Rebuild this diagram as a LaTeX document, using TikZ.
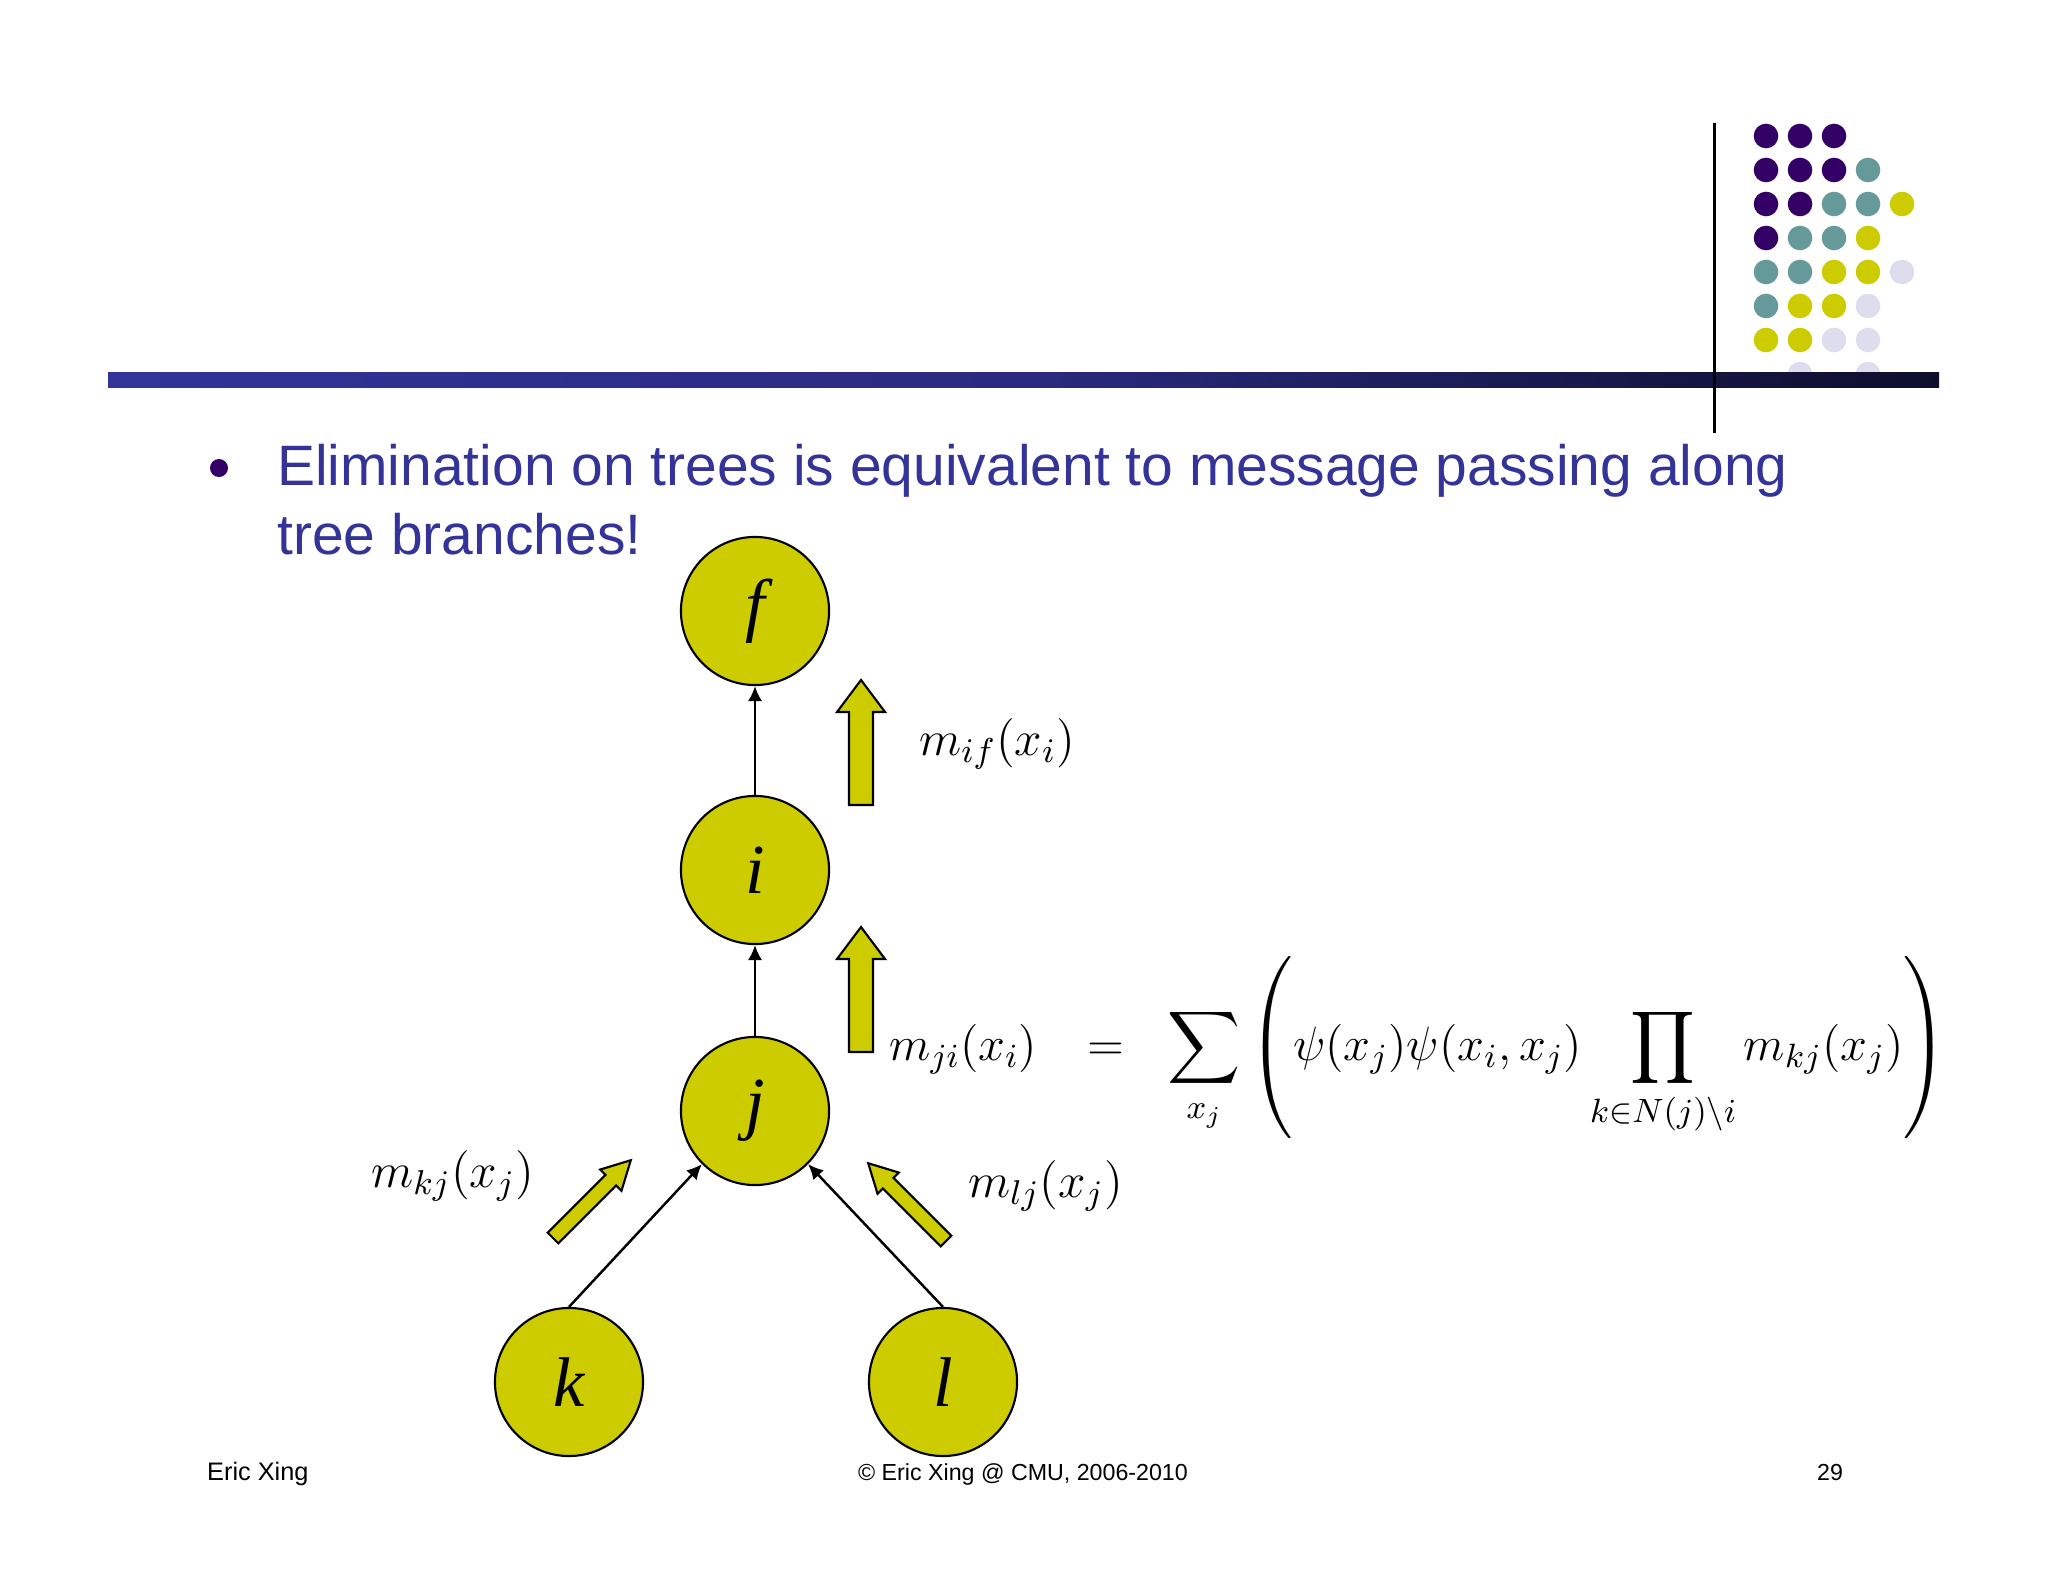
\documentclass[tikz,border=0pt]{standalone}
\usepackage{fix-cm}
\usepackage{amsmath}
\usepackage{fontspec}
\usepackage{tikz}
\usetikzlibrary{arrows.meta, positioning, calc}

\newfontfamily\slidefont{Liberation Sans}
\newfontfamily\letterfont{Liberation Serif}

\definecolor{nodeyellow}{HTML}{CCCC00}
\definecolor{dotpp}{HTML}{330066}
\definecolor{dottl}{HTML}{669999}
\definecolor{dotyl}{HTML}{CCCC00}
\definecolor{dotlv}{HTML}{DDDDEE}
\definecolor{titleblue}{HTML}{333399}
\definecolor{barblue}{HTML}{333399}
\definecolor{barmid}{HTML}{2A2A80}
\definecolor{bardark}{HTML}{0E0E2C}

\tikzset{
  dotno/.style={fill=none},
  var/.style={circle, draw, fill=nodeyellow, minimum size=1.48cm, inner sep=0pt,
    line width=0.6pt, font=\letterfont\itshape\fontsize{20}{20}\selectfont},
  msglabel/.style={anchor=base west, inner sep=0pt, font=\fontsize{14}{17}\selectfont},
  footer/.style={anchor=base, inner sep=0pt, font=\slidefont\fontsize{6.6}{8}\selectfont},
  blockarrow/.style={draw, fill=nodeyellow, line width=0.6pt, line join=miter},
  msgarrow/.pic={
    \draw[blockarrow] (-12,0) -- (-12,-93) -- (-24,-93) -- (0,-125)
      -- (24,-93) -- (12,-93) -- (12,0) -- cycle;
  }
}

\begin{document}
\begin{tikzpicture}[x=0.01cm, y=-0.01cm, >={Latex[length=4.3pt, width=4.1pt]}, line width=0.7pt]
    \useasboundingbox[fill=white] (0,0) rectangle (2048,1582);

    % corner dots
    \foreach \cols [count=\r] in {{pp,pp,pp},{pp,pp,pp,tl},{pp,pp,tl,tl,yl},{pp,tl,tl,yl},
        {tl,tl,yl,yl,lv},{tl,yl,yl,lv},{yl,yl,lv,lv},{no,lv,no,lv}}
      \foreach \c [count=\n] in \cols
        \fill[dot\c] (1732+34*\n, 102+34*\r) circle (0.123cm);

    % title bar
    \shade[left color=barblue, right color=bardark, middle color=barmid]
        (108,372) rectangle (1939,387);
    \draw[line width=0.85pt] (1714,123) -- (1714,433);

    % bullet
    \fill[dotpp] (219,468) circle (0.09cm);
    \node (title) [anchor=base west, inner sep=0pt, align=left, text=titleblue,
        font=\slidefont\fontsize{16.2}{19.35}\selectfont] at (276,554)
        {Elimination on trees is equivalent to message passing along\\tree branches!};

    % tree
    \node (f) [var] at (755,611) {f};
    \node (i) [var] at (755,870) {i};
    \node (j) [var] at (755,1111) {j};
    \node (k) [var] at (569,1382) {k};
    \node (l) [var] at (943,1382) {l};

    \draw[->] (i) -- (f);
    \draw[->] (j) -- (i);
    \draw[->] (k.north) -- (j.225);
    \draw[->] (l.north) -- (j.315);

    % messages
    \pic at (861,805) {msgarrow};
    \pic at (861,1052) {msgarrow};
    \pic[rotate=-45, xscale=0.625, yscale=0.88] at (553,1238) {msgarrow};
    \pic[rotate=45, xscale=0.625, yscale=0.88] at (946,1241) {msgarrow};

    \node (mif) [msglabel] at (918,755) {$m_{if}(x_i)$};
    \node (mkj) [msglabel] at (370,1187) {$m_{kj}(x_j)$};
    \node (mlj) [msglabel] at (967,1197) {$m_{lj}(x_j)$};
    \node (mji) [msglabel, font=\fontsize{13.7}{17}\selectfont] at (888,1060)
        {$\displaystyle m_{ji}(x_i)\hspace{10.6pt}=\hspace{8.4pt}
        \sum_{x_j}\left(\psi(x_j)\psi(x_i,x_j)\prod_{k\in N(j)\backslash i}m_{kj}(x_j)\right)$};

    % footer
    \node (author) [footer, anchor=base west, font=\slidefont\fontsize{7.2}{8}\selectfont] at (206,1480) {Eric Xing};
    \node (copy) [footer] at (1023,1480) {© Eric Xing @ CMU, 2006-2010};
    \node (page) [footer] at (1830,1480) {29};
\end{tikzpicture}
\end{document}
